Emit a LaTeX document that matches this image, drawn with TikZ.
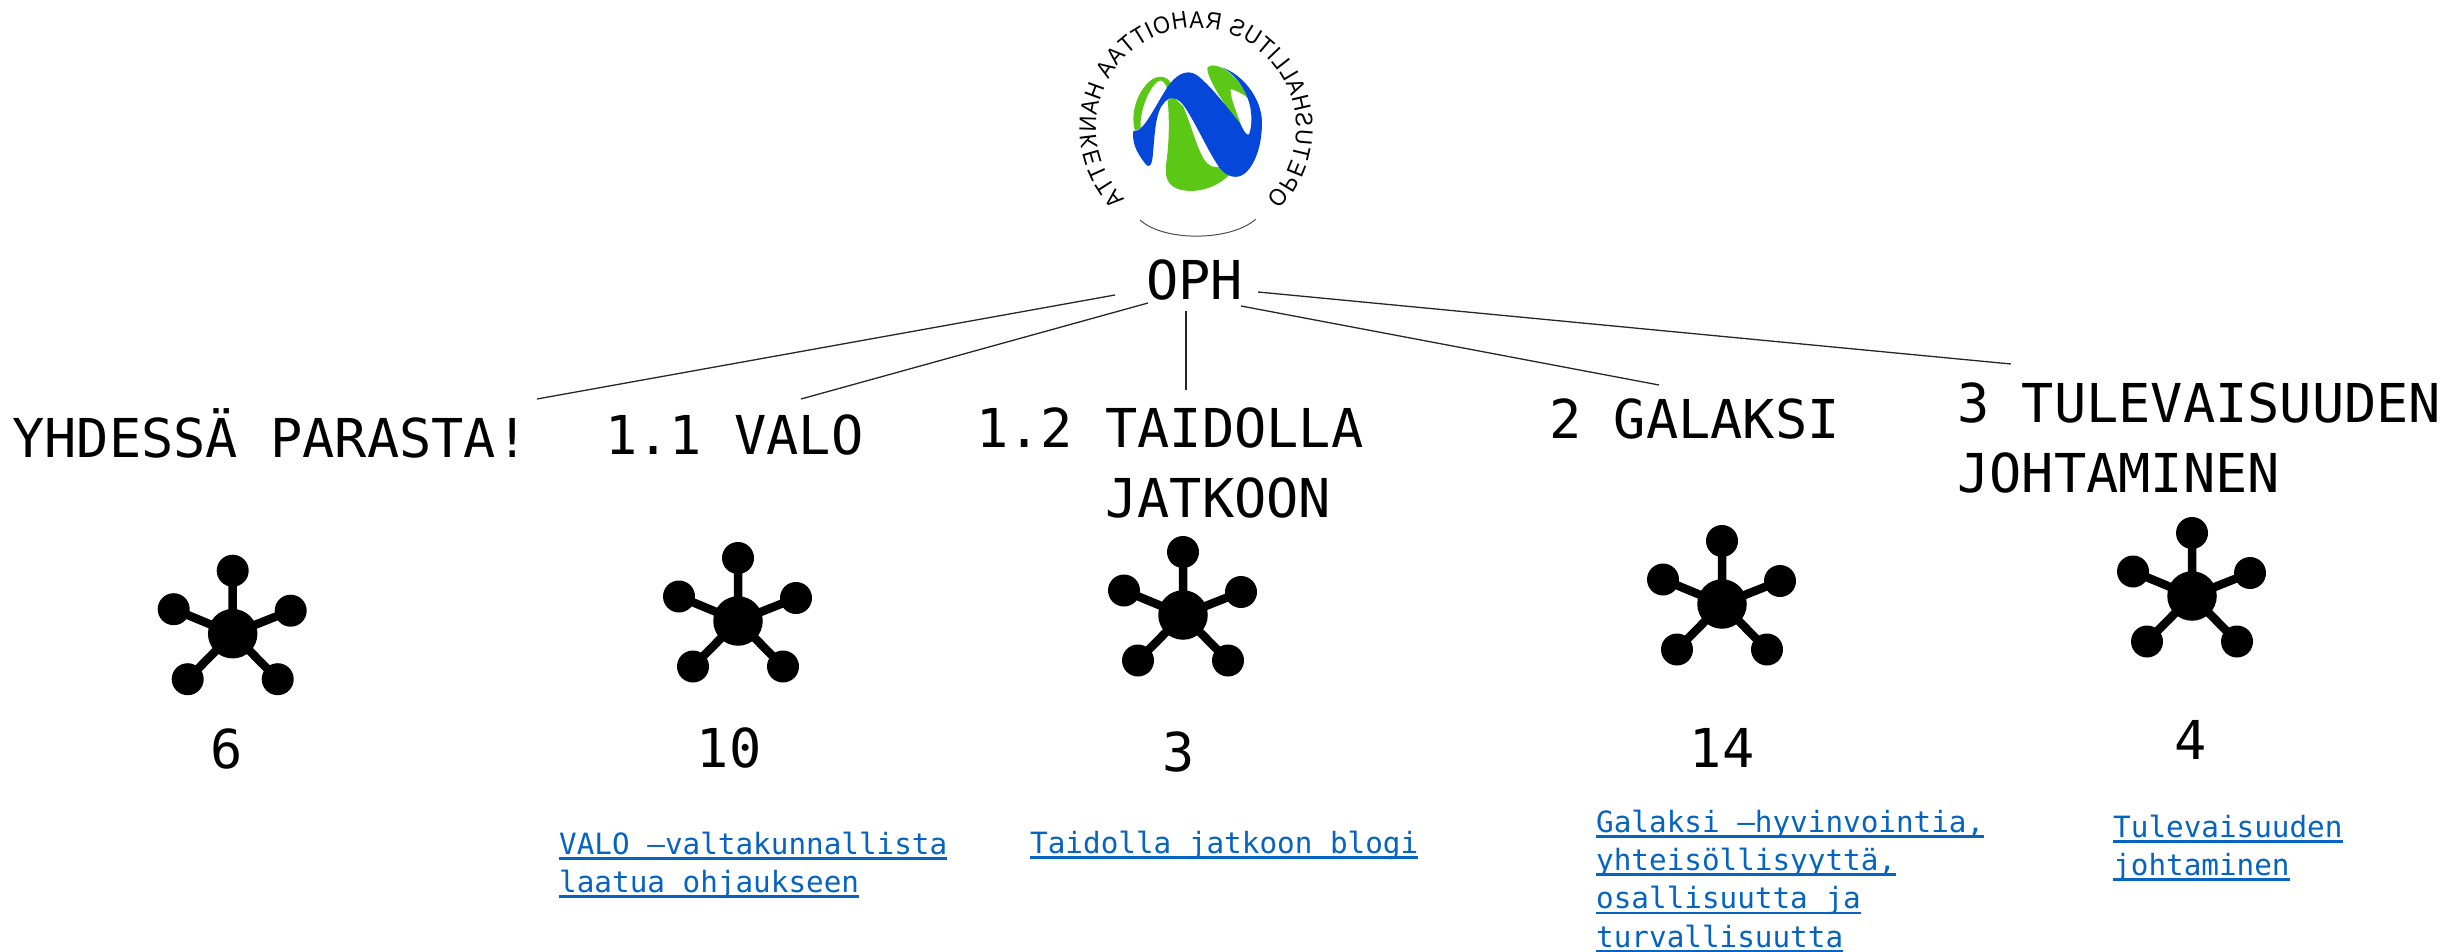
\documentclass[tikz,border=0pt]{standalone}
\usepackage{fontspec}
\setmainfont{DejaVu Sans Mono}
\newfontfamily\logofont[FakeStretch=0.9]{Liberation Sans}
\usetikzlibrary{decorations.text}
\definecolor{linkblue}{HTML}{0563C1}
\definecolor{logoblue}{HTML}{0547D8}
\definecolor{logogreen}{HTML}{5AC815}
\newcommand{\lnk}[1]{\setbox0\hbox{#1}\rlap{\rule[-5.5pt]{\wd0}{2.6pt}}\box0}
\tikzset{
  x=1pt,y=-1pt,
  titletext/.style={inner sep=0pt,anchor=base west,align=left,font=\fontsize{53.6}{70}\selectfont},
  numtext/.style={inner sep=0pt,anchor=base,font=\fontsize{53.6}{70}\selectfont},
  linktext/.style={inner sep=0pt,anchor=base west,align=left,text=linkblue,font=\fontsize{29.3}{38.4}\selectfont},
  connector/.style={draw=black!85,line width=1.3pt},
  hubdot/.style={circle,fill=black,inner sep=0pt,minimum size=49.5pt},
  satdot/.style={circle,fill=black,inner sep=0pt,minimum size=32pt},
  hub/.pic={
    \node[hubdot] (-c) at (0,0) {};
    \node[satdot] (-n) at (0,-63) {};
    \node[satdot] (-w) at (-59,-24.5) {};
    \node[satdot] (-e) at (58,-23) {};
    \node[satdot] (-sw) at (-45,45.5) {};
    \node[satdot] (-se) at (45,45.5) {};
    \draw[line width=8.5pt] (-c.center)--(-n.center) (-c.center)--(-w.center) (-c.center)--(-e.center) (-c.center)--(-sw.center) (-c.center)--(-se.center);
  }
}
\begin{document}
\begin{tikzpicture}
\useasboundingbox (0,0) rectangle (2463,952);
% logo shapes, drawn at the 3x zoom scale
\begin{scope}[shift={(1050,0)},x=0.3333pt,y=-0.3333pt]
  \fill[logogreen] (255,392) .. controls (240,340) and (262,275) .. (300,243) .. controls (325,222) and (355,228) .. (365,255) -- (352,268) .. controls (347,248) and (335,235) .. (322,245) .. controls (295,268) and (268,335) .. (272,385) -- cycle;
  \fill[logogreen] (472,203) .. controls (480,190) and (510,198) .. (530,212) .. controls (555,230) and (580,262) .. (592,292) .. controls (575,280) and (555,270) .. (542,267) .. controls (540,295) and (565,350) .. (578,388) .. controls (545,345) and (470,240) .. (472,203) -- cycle;
  \fill[logogreen] (353,302) .. controls (358,350) and (358,420) .. (350,480) .. controls (342,530) and (350,560) .. (395,570) .. controls (450,582) and (510,555) .. (537,525) -- (510,500) .. controls (495,505) and (475,500) .. (460,475) .. controls (440,440) and (425,380) .. (400,320) -- (370,290) -- cycle;
  \fill[logoblue] (255,393) .. controls (280,395) and (315,320) .. (350,265) .. controls (375,225) and (410,205) .. (440,225) .. controls (480,255) and (530,320) .. (570,370) .. controls (580,390) and (590,410) .. (597,403) .. controls (607,380) and (608,330) .. (592,292) .. controls (575,250) and (545,215) .. (515,202) .. controls (570,220) and (625,280) .. (635,350) .. controls (640,420) and (620,490) .. (585,520) .. controls (560,540) and (530,530) .. (510,505) .. controls (480,465) and (445,385) .. (410,330) .. controls (390,295) and (365,285) .. (345,305) .. controls (315,335) and (315,400) .. (308,470) .. controls (305,500) and (295,505) .. (285,490) .. controls (262,460) and (245,430) .. (250,393) -- cycle;
  \draw[black!70,line width=1pt] (270,660) .. controls (340,725) and (540,725) .. (617,658);
\end{scope}
% logo wording, mirrored as in the picture
\begin{scope}[transform canvas={shift={(1196,128)},xscale=-1}]
\begin{scope}[x=1pt,y=1pt]
  \path[decorate,decoration={text along path,text align={fit to path},
    text={|\logofont\fontsize{24}{24}\selectfont|OPETUSHALLITUS RAHOITTAA HANKETTA}}]
    (225:100) arc[start angle=225,end angle=-45,radius=100];
\end{scope}
\end{scope}
% titles
\node[titletext] (oph) at (1146,299) {OPH};
\node[titletext] (t1) at (12,457) {YHDESSÄ PARASTA!};
\node[titletext] (t2) at (605,454) {1.1 VALO};
\node[titletext] (t3) at (976,517) {1.2 TAIDOLLA\\~~~~JATKOON};
\node[titletext] (t4) at (1549,438.5) {2 GALAKSI};
\node[titletext] (t5) at (1957,492) {3 TULEVAISUUDEN\\JOHTAMINEN};
% connector ends
\coordinate (o1) at (1115,295);
\coordinate (o2) at (1148,303);
\coordinate (o3) at (1186,311);
\coordinate (o4) at (1241,306);
\coordinate (o5) at (1258,292);
\coordinate (e1) at (537,399);
\coordinate (e2) at (801,399);
\coordinate (e3) at (1186,390);
\coordinate (e4) at (1659,385);
\coordinate (e5) at (2011,364);
\draw[connector] (o1)--(e1);
\draw[connector] (o2)--(e2);
\draw[connector] (o3)--(e3);
\draw[connector] (o4)--(e4);
\draw[connector] (o5)--(e5);
% icons
\pic (h1) at (232.7,633.7) {hub};
\pic (h2) at (738,621) {hub};
\pic (h3) at (1183,615) {hub};
\pic (h4) at (1722,604) {hub};
\pic (h5) at (2192,596) {hub};
% counts
\node[numtext] (n1) at (227,768) {6};
\node[numtext] (n2) at (729,767) {10};
\node[numtext] (n3) at (1179,771) {3};
\node[numtext] (n4) at (1722,767) {14};
\node[numtext] (n5) at (2191,759) {4};
% links
\node[linktext] (l2) at (559,892.4) {\lnk{VALO –valtakunnallista}\\\lnk{laatua ohjaukseen}};
\node[linktext] (l3) at (1030,853) {\lnk{Taidolla jatkoon blogi}};
\node[linktext] (l4) at (1596,947.2) {\lnk{Galaksi –hyvinvointia,}\\\lnk{yhteisöllisyyttä,}\\\lnk{osallisuutta ja}\\\lnk{turvallisuutta}};
\node[linktext] (l5) at (2113,875.4) {\lnk{Tulevaisuuden}\\\lnk{johtaminen}};
\end{tikzpicture}
\end{document}
